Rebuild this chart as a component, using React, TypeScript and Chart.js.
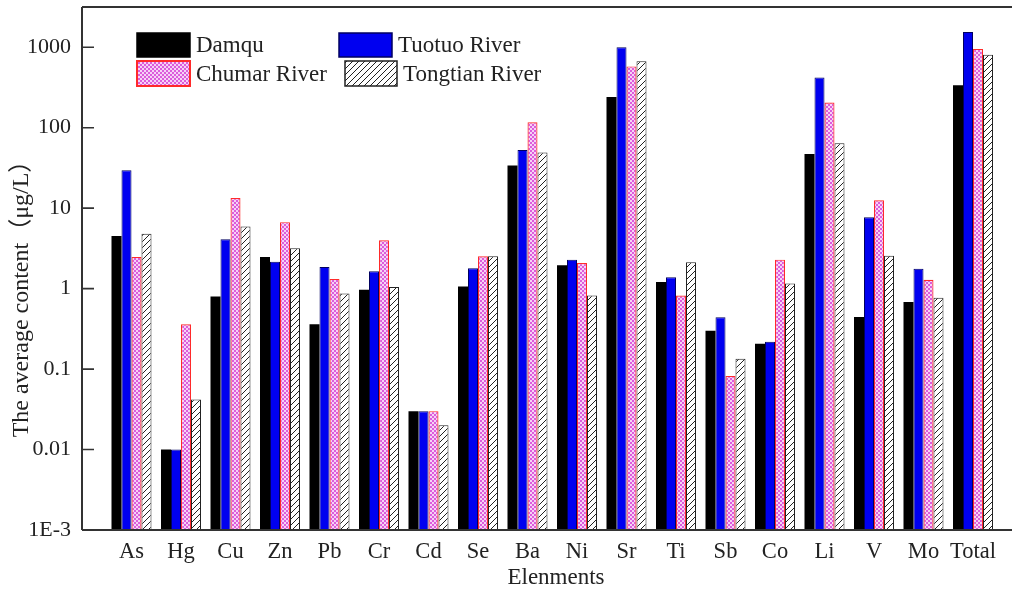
import React, { useEffect, useRef } from 'react';
import { Chart, registerables } from 'chart.js';

Chart.register(...registerables);

const elements = ['As', 'Hg', 'Cu', 'Zn', 'Pb', 'Cr', 'Cd', 'Se', 'Ba', 'Ni', 'Sr', 'Ti', 'Sb', 'Co', 'Li', 'V', 'Mo', 'Total'];
const damqu = [4.5, 0.01, 0.8, 2.48, 0.36, 0.97, 0.03, 1.06, 34, 1.95, 240, 1.21, 0.3, 0.206, 47, 0.445, 0.68, 336];
const tuotuo = [29.5, 0.01, 4.1, 2.16, 1.86, 1.64, 0.03, 1.79, 53, 2.29, 1000, 1.38, 0.44, 0.218, 422, 7.7, 1.76, 1546];
const chumar = [2.48, 0.36, 13.4, 6.7, 1.32, 3.98, 0.03, 2.52, 117, 2.08, 578, 0.82, 0.082, 2.29, 206, 12.5, 1.29, 953];
const tongtian = [4.8, 0.042, 5.9, 3.17, 0.87, 1.05, 0.02, 2.52, 49, 0.82, 669, 2.12, 0.134, 1.16, 64, 2.57, 0.77, 807];
const seriesNames = ['Damqu', 'Tuotuo River', 'Chumar River', 'Tongtian River'];
const yTicks = [0.001, 0.01, 0.1, 1, 10, 100, 1000];
const yTickLabels = ['1E-3', '0.01', '0.1', '1', '10', '100', '1000'];
const xTitle = 'Elenments';
const yTitle = 'The average content（μg/L）';

const FONT = '"Liberation Serif", "Noto Sans CJK SC", serif';
const TEXT = '#222';
const FRAME = '#333';

function checkerPattern(): CanvasPattern | string {
  const c = document.createElement('canvas');
  c.width = 4; c.height = 4;
  const g = c.getContext('2d');
  if (!g) return '#e8a0e8';
  g.fillStyle = '#f6d2f6';
  g.fillRect(0, 0, 4, 4);
  g.fillStyle = '#dc5cdc';
  g.fillRect(0, 0, 2, 2);
  g.fillRect(2, 2, 2, 2);
  return g.createPattern(c, 'repeat') || '#e8a0e8';
}

function hatchPattern(): CanvasPattern | string {
  const s = 6;
  const c = document.createElement('canvas');
  c.width = s; c.height = s;
  const g = c.getContext('2d');
  if (!g) return '#ddd';
  g.fillStyle = '#ffffff';
  g.fillRect(0, 0, s, s);
  g.strokeStyle = '#222';
  g.lineWidth = 1;
  g.beginPath();
  g.moveTo(-1, s + 1); g.lineTo(s + 1, -1);
  g.moveTo(-1, 1); g.lineTo(1, -1);
  g.moveTo(s - 1, s + 1); g.lineTo(s + 1, s - 1);
  g.stroke();
  return g.createPattern(c, 'repeat') || '#ddd';
}

const legendLayout = [
  { x: 137, y: 33, w: 53, h: 24, tx: 196 },
  { x: 339, y: 33, w: 53, h: 24, tx: 398 },
  { x: 137, y: 61, w: 53, h: 25, tx: 196 },
  { x: 345, y: 61, w: 52, h: 25, tx: 403 },
];

const framePlugin = {
  id: 'frameAndLegend',
  afterDraw(chart: any) {
    const { ctx, chartArea } = chart;
    const { left, right, top, bottom } = chartArea;
    ctx.save();
    ctx.strokeStyle = FRAME;
    ctx.lineWidth = 2;
    ctx.beginPath();
    ctx.moveTo(left, top); ctx.lineTo(right, top);
    ctx.moveTo(left, top); ctx.lineTo(left, bottom);
    ctx.moveTo(left, bottom); ctx.lineTo(right, bottom);
    ctx.moveTo(right, top); ctx.lineTo(right, bottom);
    ctx.stroke();
    // inward tick marks
    const ys = chart.scales.y;
    ctx.lineWidth = 1.6;
    ctx.beginPath();
    yTicks.forEach((v) => {
      const py = ys.getPixelForValue(v);
      ctx.moveTo(left, py); ctx.lineTo(left + 12, py);
    });
    ctx.stroke();
    // axis titles
    ctx.fillStyle = TEXT;
    ctx.font = `23px ${FONT}`;
    ctx.textAlign = 'center';
    ctx.textBaseline = 'middle';
    ctx.fillText(xTitle, 556, 578);
    ctx.save();
    ctx.translate(22, 293);
    ctx.rotate(-Math.PI / 2);
    ctx.font = `24px ${FONT}`;
    ctx.fillText(yTitle, 0, 0);
    ctx.restore();
    // legend
    ctx.font = `23px ${FONT}`;
    ctx.textBaseline = 'middle';
    ctx.textAlign = 'left';
    chart.data.datasets.forEach((ds: any, i: number) => {
      const L = legendLayout[i];
      ctx.fillStyle = ds.backgroundColor;
      ctx.fillRect(L.x, L.y, L.w, L.h);
      ctx.strokeStyle = ds.borderColor;
      ctx.lineWidth = i === 2 ? 2 : 1.5;
      ctx.strokeRect(L.x, L.y, L.w, L.h);
      ctx.fillStyle = TEXT;
      ctx.fillText(ds.label, L.tx, L.y + L.h / 2 + 1);
    });
    ctx.restore();
  },
};

export default function App() {
  const ref = useRef<HTMLCanvasElement | null>(null);

  useEffect(() => {
    if (!ref.current) return;
    Chart.defaults.font.family = FONT;
    const pad = (a: number[]) => [null, ...a, null];
    const labels = ['', ...elements, ''];
    const chart = new Chart(ref.current, {
      type: 'bar',
      data: {
        labels,
        datasets: [
          { label: seriesNames[0], data: pad(damqu), backgroundColor: '#000000', borderColor: '#000000', borderWidth: 0 },
          { label: seriesNames[1], data: pad(tuotuo), backgroundColor: '#0000f0', borderColor: '#000060', borderWidth: 1 },
          { label: seriesNames[2], data: pad(chumar), backgroundColor: checkerPattern() as any, borderColor: '#ff2a2a', borderWidth: 1.2 },
          { label: seriesNames[3], data: pad(tongtian), backgroundColor: hatchPattern() as any, borderColor: '#222222', borderWidth: 1 },
        ],
      },
      options: {
        animation: false,
        responsive: true,
        maintainAspectRatio: false,
        layout: { padding: { left: 0, top: 7, right: 17.5, bottom: 0 } },
        datasets: { bar: { barPercentage: 1, categoryPercentage: 0.808 } },
        plugins: { legend: { display: false }, tooltip: { enabled: false } },
        scales: {
          x: {
            type: 'category',
            offset: false,
            grid: { display: false, drawTicks: false },
            border: { display: false },
            ticks: { autoSkip: false, maxRotation: 0, minRotation: 0, padding: 9, color: TEXT, font: { size: 22.5, family: FONT } },
            afterFit: (s: any) => { s.height = 63; s.paddingLeft = 0; s.paddingRight = 0; },
          },
          y: {
            type: 'logarithmic',
            min: 0.001,
            max: Math.pow(10, 3.5),
            grid: { display: false, drawTicks: false },
            border: { display: false },
            afterBuildTicks: (s: any) => { s.ticks = yTicks.map((v) => ({ value: v })); },
            ticks: {
              padding: 11,
              color: TEXT,
              font: { size: 22, family: FONT },
              callback: (_v: any, i: number) => yTickLabels[i],
            },
            afterFit: (s: any) => { s.width = 82; s.paddingTop = 0; s.paddingBottom = 0; },
          },
        },
      },
      plugins: [framePlugin],
    } as any);
    return () => chart.destroy();
  }, []);

  return (
    <div style={{ position: 'fixed', left: 0, top: 0, width: 1012, height: 593, overflow: 'hidden', background: '#fff' }}>
      <div style={{ position: 'absolute', left: 0, top: 0, width: 1040, height: 593 }}>
        <canvas ref={ref} />
      </div>
    </div>
  );
}
